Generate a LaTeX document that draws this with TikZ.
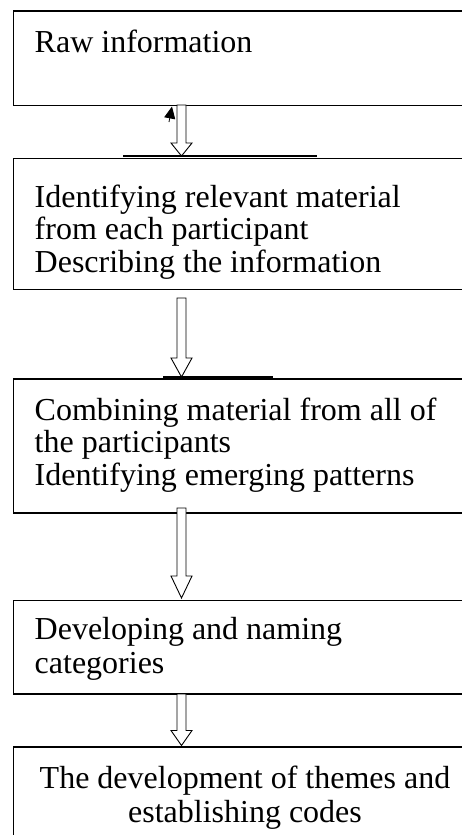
\documentclass[tikz,border=0pt]{standalone}
\usepackage{fontspec}
\setmainfont{Liberation Serif}
\usetikzlibrary{arrows.meta,calc}
\newcommand\blockarr[3]{%
  \draw[blockarrow] let \p1=(#1), \p2=(#2) in
    (\x1-4.5pt,\y1) -- (\x1-4.5pt,\y2+#3pt) -- (\x1-10.5pt,\y2+#3pt) -- (\x1,\y2)
    -- (\x1+10.5pt,\y2+#3pt) -- (\x1+4.5pt,\y2+#3pt) -- (\x1+4.5pt,\y1) -- cycle;}
\begin{document}
\begin{tikzpicture}[x=1pt,y=-1pt,
  stagebox/.style={draw, line width=1.3pt, rectangle, inner sep=0pt, outer sep=0pt,
    anchor=north west, minimum width=476pt},
  txt/.style={inner sep=0pt, font=\fontsize{32}{32.5}\selectfont, align=left},
  blockarrow/.style={draw, line width=0.9pt, fill=white, line join=miter},
  bar/.style={line width=1.8pt}]
\useasboundingbox (0,0) rectangle (462,835);
% boxes
\node[stagebox, minimum height=94.5pt] (b1) at (13.5,11) {};
\node[stagebox, minimum height=131pt] (b2) at (13.5,158.5) {};
\node[stagebox, minimum height=134pt] (b3) at (13.5,379) {};
\node[stagebox, minimum height=93.5pt] (b4) at (13.5,600.5) {};
\node[stagebox, minimum height=120pt] (b5) at (13.5,747) {};
% texts (base anchor = baseline of the last line)
\node[txt, anchor=base west] (t1) at (34.5,52) {Raw information};
\node[txt, anchor=base west] (t2) at (34.5,272) {Identifying relevant material\\from each participant\\Describing the information};
\node[txt, anchor=base west] (t3) at (34.5,485) {Combining material from all of\\the participants\\Identifying emerging patterns};
\node[txt, anchor=base west, font=\fontsize{32}{34}\selectfont] (t4) at (34.5,673) {Developing and naming\\categories};
\node[txt, anchor=base, align=center, font=\fontsize{32}{34}\selectfont] (t5) at (245,822) {The development of themes and\\establishing codes};
% short bars above boxes
\coordinate (s1a) at (123,156); \coordinate (s1b) at (317,156);
\coordinate (s2a) at (163,377); \coordinate (s2b) at (273,377);
\draw[bar] (s1a) -- (s1b);
\draw[bar] (s2a) -- (s2b);
% arrow end points
\coordinate (a1s) at (181.5,105); \coordinate (a1e) at (181.5,156);
\coordinate (a2s) at (181.5,298); \coordinate (a2e) at (181.5,377);
\coordinate (a3s) at (181.5,508); \coordinate (a3e) at (181.5,598);
\coordinate (a4s) at (181.5,694); \coordinate (a4e) at (181.5,745.5);
\blockarr{a1s}{a1e}{13}
\blockarr{a2s}{a2e}{19}
\blockarr{a3s}{a3e}{22}
\blockarr{a4s}{a4e}{15}
% small stray arrowhead
\coordinate (h1) at (169,122); \coordinate (h2) at (172,106.5);
\draw[line width=0.8pt, -{Triangle[length=12pt,width=11pt]}] (h1) -- (h2);
\end{tikzpicture}
\end{document}
